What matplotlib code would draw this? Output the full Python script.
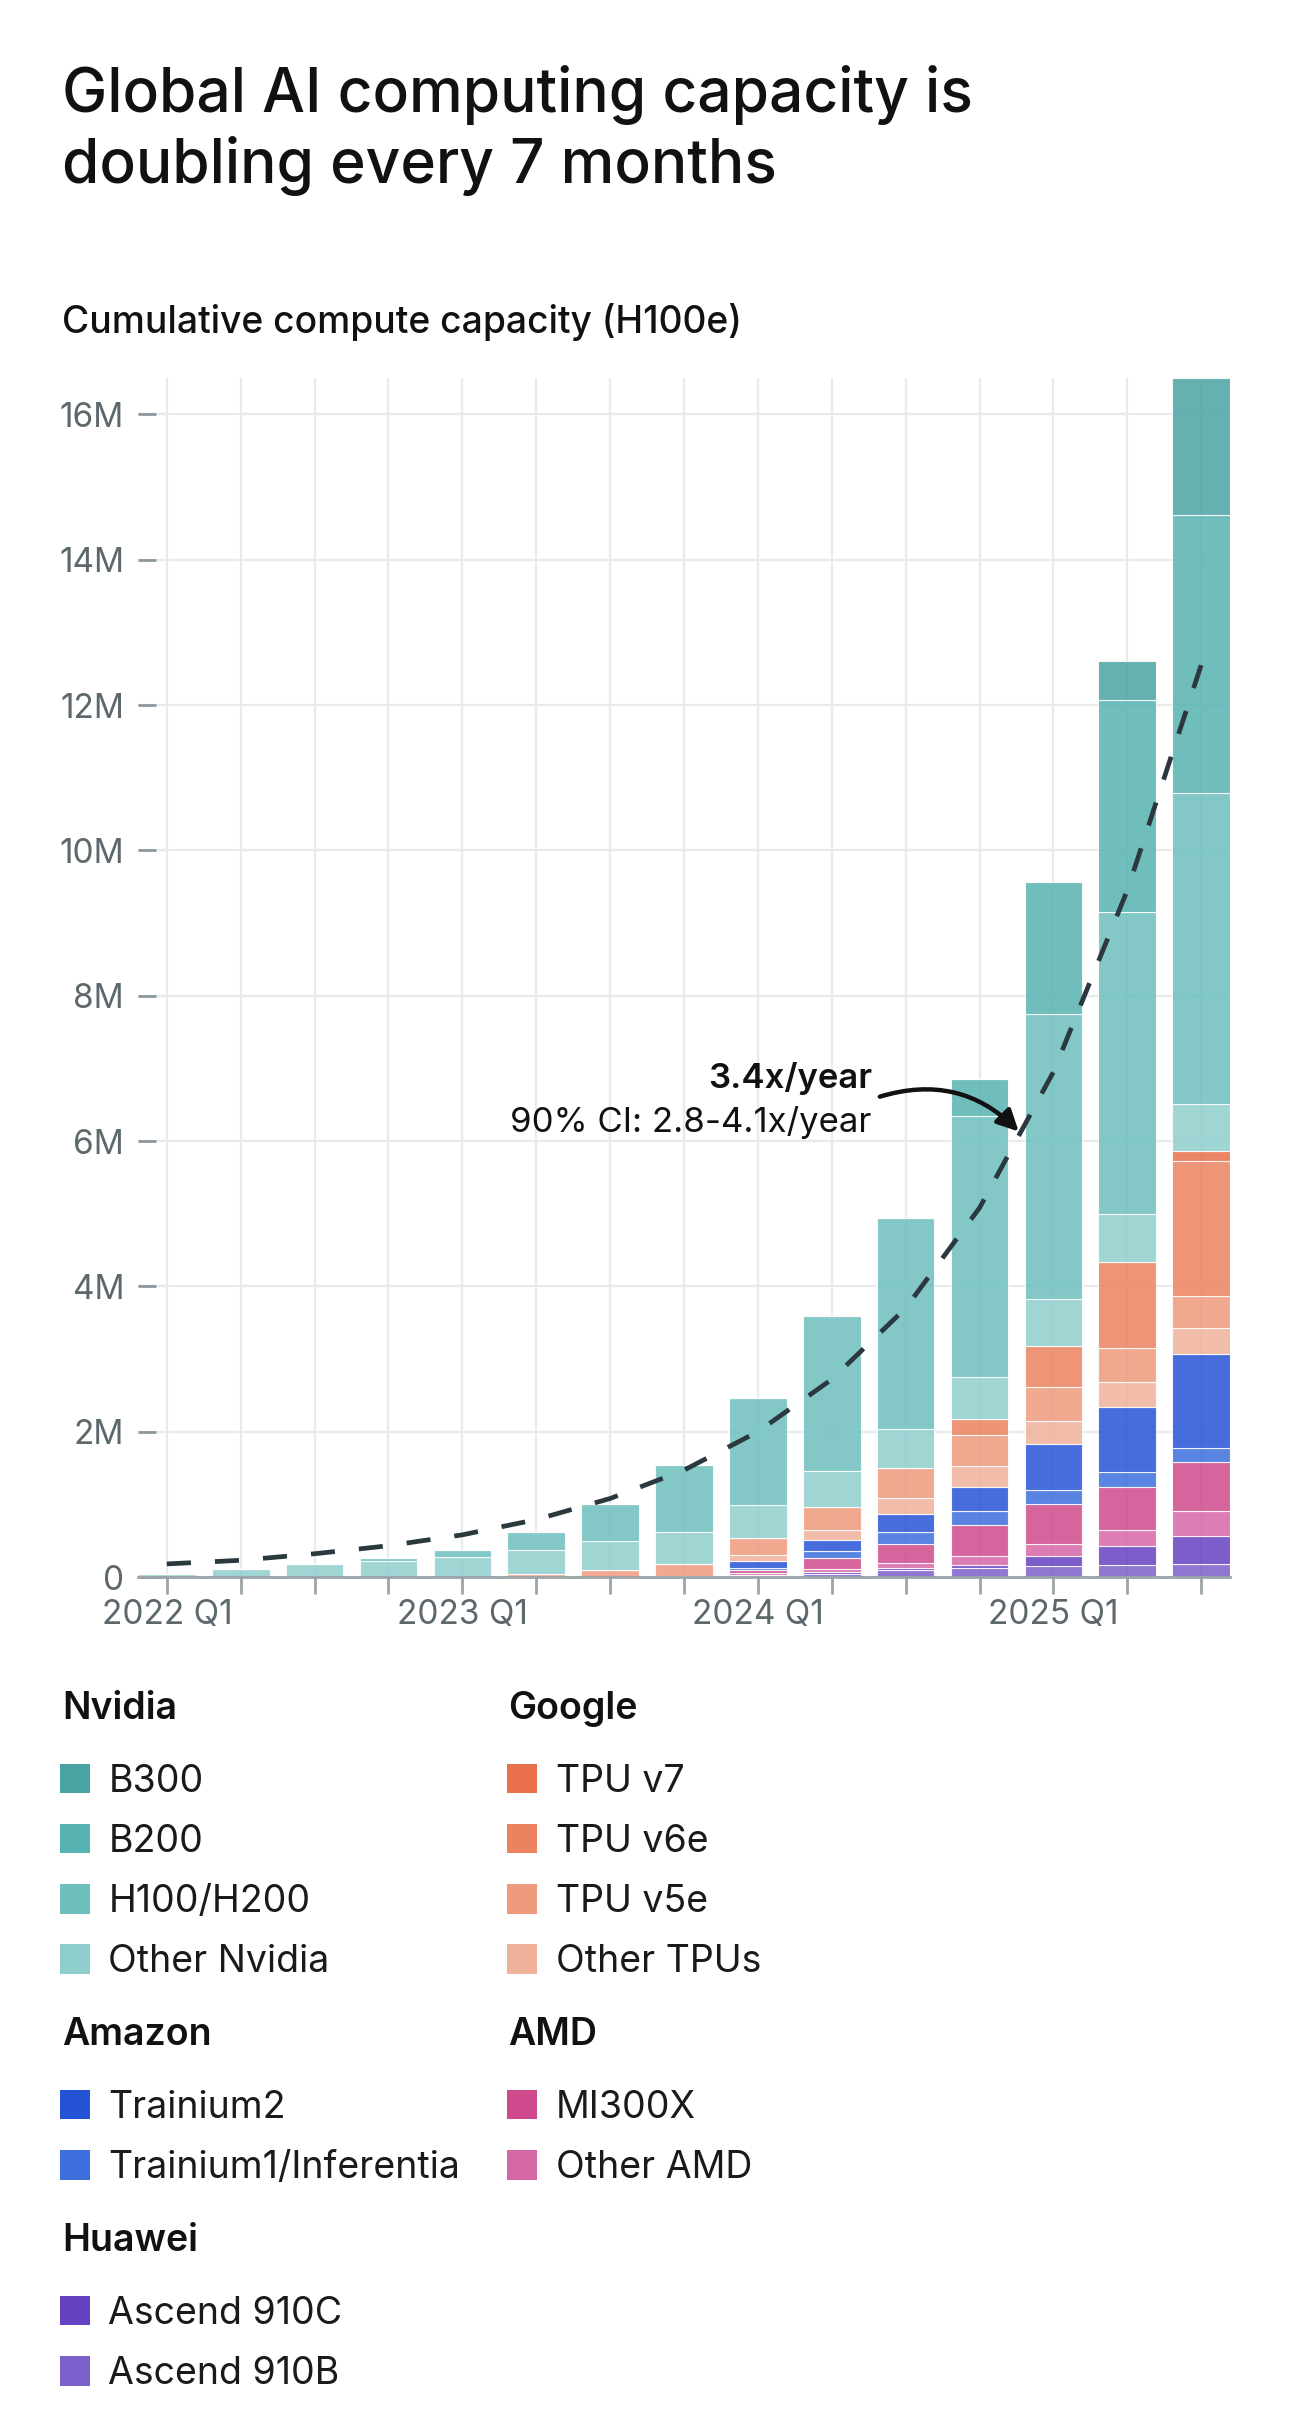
import numpy as np
import matplotlib.pyplot as plt
from matplotlib.patches import Rectangle
from matplotlib.ticker import FuncFormatter

plt.rcParams['font.family'] = ['Inter', 'DejaVu Sans']

# quarters on the x axis
quarters = ['2022 Q1', '2022 Q2', '2022 Q3', '2022 Q4', '2023 Q1', '2023 Q2', '2023 Q3', '2023 Q4',
            '2024 Q1', '2024 Q2', '2024 Q3', '2024 Q4', '2025 Q1', '2025 Q2', '2025 Q3']
labelled = ['2022 Q1', '2023 Q1', '2024 Q1', '2025 Q1']

# segment heights, millions of H100e (stacked bottom -> top)
ascend_910b = [0, 0, 0, 0, 0, 0, 0, 0, 0.02, 0.045, 0.10, 0.13, 0.15, 0.16, 0.18]
ascend_910c = [0, 0, 0, 0, 0, 0, 0, 0, 0.01, 0.028, 0.025, 0.035, 0.14, 0.27, 0.38]
other_amd = [0, 0, 0, 0, 0, 0, 0, 0, 0.02, 0.033, 0.065, 0.125, 0.17, 0.21, 0.35]
mi300x = [0, 0, 0, 0, 0, 0, 0, 0, 0.04, 0.151, 0.27, 0.42, 0.54, 0.60, 0.67]
trainium1 = [0, 0, 0, 0, 0, 0, 0, 0, 0.04, 0.10, 0.165, 0.20, 0.20, 0.20, 0.20]
trainium2 = [0, 0, 0, 0, 0, 0, 0, 0, 0.09, 0.15, 0.245, 0.33, 0.63, 0.90, 1.29]
other_tpu = [0, 0, 0, 0, 0, 0, 0, 0.02, 0.08, 0.146, 0.22, 0.29, 0.31, 0.34, 0.35]
tpu_v5e = [0, 0, 0, 0, 0, 0.04, 0.10, 0.16, 0.23, 0.314, 0.41, 0.43, 0.47, 0.47, 0.45]
tpu_v6e = [0, 0, 0, 0, 0, 0, 0, 0, 0, 0, 0, 0.21, 0.57, 1.19, 1.86]
tpu_v7 = [0, 0, 0, 0, 0, 0, 0, 0, 0, 0, 0, 0, 0, 0, 0.13]
other_nvidia = [0.04, 0.11, 0.18, 0.225, 0.28, 0.33, 0.40, 0.435, 0.46, 0.49, 0.54, 0.58, 0.64, 0.65, 0.65]
h100 = [0, 0, 0, 0.035, 0.09, 0.245, 0.50, 0.925, 1.47, 2.13, 2.90, 3.60, 3.93, 4.16, 4.28]
b200 = [0, 0, 0, 0, 0, 0, 0, 0, 0, 0, 0, 0.50, 1.82, 2.92, 3.82]
b300 = [0, 0, 0, 0, 0, 0, 0, 0, 0, 0, 0, 0, 0, 0.54, 1.89]

# fitted trend (3.4x/year), read per quarter
trend = [0.18, 0.23, 0.32, 0.43, 0.58, 0.79, 1.08, 1.47, 2.0, 2.72, 3.7, 5.08, 6.95, 9.45, 12.55]

stack = [
    ('Ascend 910B', ascend_910b, '#7b5fcb'),
    ('Ascend 910C', ascend_910c, '#6540c0'),
    ('Other AMD', other_amd, '#d667a6'),
    ('MI300X', mi300x, '#cf4a8c'),
    ('Trainium1/Inferentia', trainium1, '#3d6fdc'),
    ('Trainium2', trainium2, '#2553d5'),
    ('Other TPUs', other_tpu, '#f0b19b'),
    ('TPU v5e', tpu_v5e, '#ee9a7c'),
    ('TPU v6e', tpu_v6e, '#ec835f'),
    ('TPU v7', tpu_v7, '#e8704a'),
    ('Other Nvidia', other_nvidia, '#8ecfcd'),
    ('H100/H200', h100, '#6dbfbd'),
    ('B200', b200, '#57b3b1'),
    ('B300', b300, '#4aa3a3'),
]
colors = {name: c for name, _, c in stack}

legend_cols = [
    [('Nvidia', ['B300', 'B200', 'H100/H200', 'Other Nvidia']),
     ('Amazon', ['Trainium2', 'Trainium1/Inferentia']),
     ('Huawei', ['Ascend 910C', 'Ascend 910B'])],
    [('Google', ['TPU v7', 'TPU v6e', 'TPU v5e', 'Other TPUs']),
     ('AMD', ['MI300X', 'Other AMD'])],
]

W, H = 1290, 2434
fig = plt.figure(figsize=(W / 100, H / 100), dpi=100)


def fx(px):
    return px / W


def fy(py):
    return 1 - py / H


ax = fig.add_axes([fx(138), fy(1577), (1230 - 138) / W, (1577 - 378) / H])
x = np.arange(len(quarters))
bottom = np.zeros(len(quarters))
for name, vals, c in stack:
    vals = np.array(vals)
    ax.bar(x, vals, width=0.78, bottom=bottom, color=c, alpha=0.85,
           edgecolor='white', linewidth=0.8, zorder=2)
    bottom += vals

ax.plot(x, trend, color='#2b383e', lw=3.4, dashes=(5.1, 5.1), zorder=3)

ax.text(9.54, 6.73, '3.4x/year', ha='right', va='baseline', fontsize=25,
        fontweight='semibold', color='#111111')
ax.text(9.54, 6.13, '90% CI: 2.8-4.1x/year', ha='right', va='baseline',
        fontsize=25, color='#111111')
ax.annotate('', xy=(11.53, 6.13), xytext=(9.65, 6.61),
            arrowprops=dict(arrowstyle='-|>', connectionstyle='arc3,rad=-0.3',
                            color='#111111', lw=3.2, mutation_scale=32,
                            shrinkA=0, shrinkB=0), zorder=4)

ax.set_xlim(-0.39, 14.39)
ax.set_ylim(0, 16.5)
ax.set_xticks(x)
ax.set_xticklabels([q if q in labelled else '' for q in quarters])
ax.set_yticks(np.arange(0, 17, 2))
ax.yaxis.set_major_formatter(FuncFormatter(lambda v, p: '0' if v == 0 else f'{v:.0f}M'))

ax.grid(color='#e6ecee', lw=1.6)
ax.set_axisbelow(True)
for s in ['top', 'right', 'left']:
    ax.spines[s].set_visible(False)
ax.spines['bottom'].set_color('#9aa3a7')
ax.spines['bottom'].set_linewidth(2)
ax.spines['bottom'].set_zorder(3)
ax.tick_params(axis='y', direction='in', length=13, width=2, color='#8d979b',
               pad=10, labelsize=24, labelcolor='#5d686c')
ax.tick_params(axis='x', direction='out', length=12, width=2, color='#9aa3a7',
               pad=4, labelsize=24, labelcolor='#5d686c')

# titles
fig.text(fx(62), fy(112), 'Global AI computing capacity is', fontsize=43.5,
         fontweight='medium', color='#111111', va='baseline')
fig.text(fx(62), fy(183), 'doubling every 7 months', fontsize=43.5,
         fontweight='medium', color='#111111', va='baseline')
fig.text(fx(62), fy(333), 'Cumulative compute capacity (H100e)', fontsize=26.8,
         fontweight='medium', color='#111111', va='baseline')

# legend
col_x = [(62, 60, 108.5), (508, 507, 556)]
for (hx, px, lx), groups in zip(col_x, legend_cols):
    y = 1719
    for header, items in groups:
        fig.text(fx(hx), fy(y), header, fontsize=27, fontweight='semibold',
                 color='#111111', va='baseline')
        y += 72.5
        for item in items:
            fig.add_artist(Rectangle((fx(px), fy(y + 1.5)), 29.5 / W, 29.5 / H,
                                     transform=fig.transFigure, color=colors[item], lw=0))
            fig.text(fx(lx), fy(y), item, fontsize=27, color='#1a1a1a', va='baseline')
            y += 60.3
        y += 73 - 60.3

fig.savefig('out.png', dpi=100, facecolor='white')
